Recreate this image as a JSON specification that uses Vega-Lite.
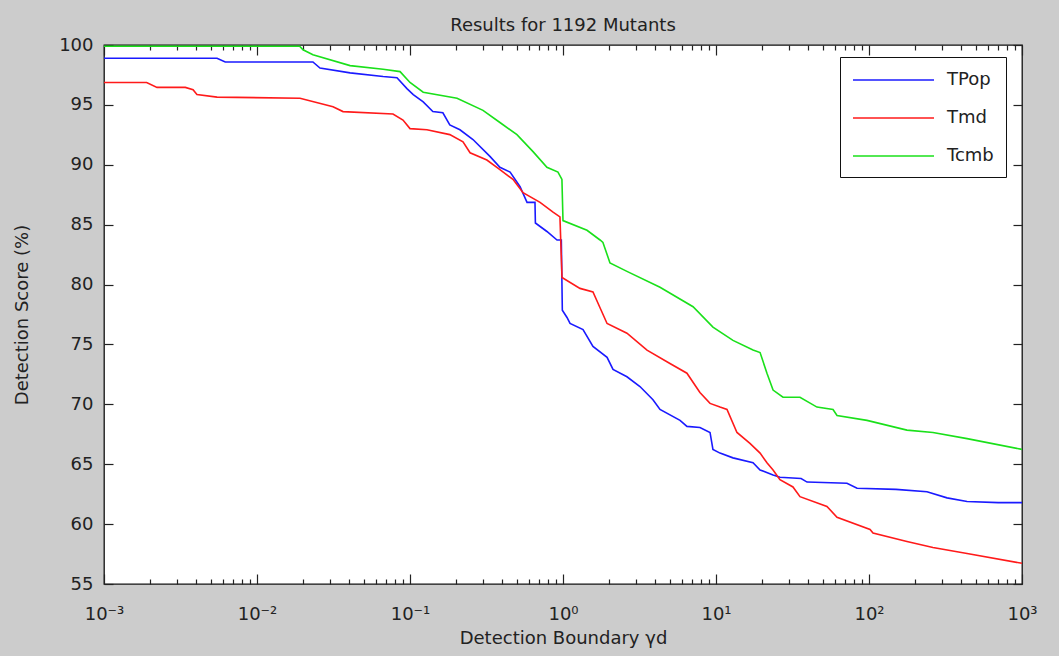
{
  "$schema": "https://vega.github.io/schema/vega-lite/v6.json",
  "autosize": "none",
  "width": 918,
  "height": 539,
  "padding": {"left": 104, "top": 45, "right": 37, "bottom": 72},
  "background": "#cccccc",
  "title": {"text": "Results for 1192 Mutants", "fontSize": 18, "font": "DejaVu Sans", "fontWeight": "normal", "color": "#222222", "offset": 1},
  "config": {
    "view": {"fill": "white", "stroke": "#111111", "strokeWidth": 1.3},
    "axis": {"labelFont": "DejaVu Sans", "titleFont": "DejaVu Sans", "labelColor": "#222222", "titleColor": "#222222", "tickColor": "#222222", "titleFontWeight": "normal", "grid": false, "domain": false, "tickWidth": 1.2, "labelFontSize": 18, "titleFontSize": 18}
  },
  "data": {"values": [
    {"s":"TPop","x":0.001,"y":98.89},{"s":"TPop","x":0.00548,"y":98.89},{"s":"TPop","x":0.0062,"y":98.58},{"s":"TPop","x":0.0232,"y":98.58},{"s":"TPop","x":0.0258,"y":98.08},{"s":"TPop","x":0.0406,"y":97.67},{"s":"TPop","x":0.0667,"y":97.37},{"s":"TPop","x":0.0822,"y":97.27},{"s":"TPop","x":0.0955,"y":96.36},{"s":"TPop","x":0.105,"y":95.86},{"s":"TPop","x":0.122,"y":95.25},{"s":"TPop","x":0.141,"y":94.44},{"s":"TPop","x":0.164,"y":94.34},{"s":"TPop","x":0.182,"y":93.33},{"s":"TPop","x":0.212,"y":92.92},{"s":"TPop","x":0.258,"y":92.11},{"s":"TPop","x":0.333,"y":90.7},{"s":"TPop","x":0.387,"y":89.79},{"s":"TPop","x":0.451,"y":89.39},{"s":"TPop","x":0.524,"y":88.17},{"s":"TPop","x":0.582,"y":86.86},{"s":"TPop","x":0.656,"y":86.86},{"s":"TPop","x":0.66,"y":85.14},{"s":"TPop","x":0.785,"y":84.43},{"s":"TPop","x":0.914,"y":83.72},{"s":"TPop","x":0.975,"y":83.72},{"s":"TPop","x":0.99,"y":77.86},{"s":"TPop","x":1.062,"y":77.25},{"s":"TPop","x":1.112,"y":76.75},{"s":"TPop","x":1.352,"y":76.24},{"s":"TPop","x":1.57,"y":74.83},{"s":"TPop","x":1.941,"y":73.92},{"s":"TPop","x":2.123,"y":72.91},{"s":"TPop","x":2.618,"y":72.3},{"s":"TPop","x":3.184,"y":71.49},{"s":"TPop","x":3.873,"y":70.38},{"s":"TPop","x":4.305,"y":69.57},{"s":"TPop","x":5.821,"y":68.66},{"s":"TPop","x":6.457,"y":68.16},{"s":"TPop","x":7.852,"y":68.06},{"s":"TPop","x":9.141,"y":67.65},{"s":"TPop","x":9.55,"y":66.24},{"s":"TPop","x":10.62,"y":65.93},{"s":"TPop","x":12.91,"y":65.53},{"s":"TPop","x":17.46,"y":65.12},{"s":"TPop","x":19.41,"y":64.52},{"s":"TPop","x":23.6,"y":64.11},{"s":"TPop","x":26.18,"y":63.91},{"s":"TPop","x":36,"y":63.81},{"s":"TPop","x":39.36,"y":63.51},{"s":"TPop","x":71.78,"y":63.41},{"s":"TPop","x":83.56,"y":63.0},{"s":"TPop","x":150,"y":62.9},{"s":"TPop","x":239.3,"y":62.7},{"s":"TPop","x":323.6,"y":62.19},{"s":"TPop","x":437.5,"y":61.89},{"s":"TPop","x":700,"y":61.79},{"s":"TPop","x":1000,"y":61.79},
    {"s":"Tmd","x":0.001,"y":96.87},{"s":"Tmd","x":0.0019,"y":96.87},{"s":"Tmd","x":0.00222,"y":96.46},{"s":"Tmd","x":0.0034,"y":96.46},{"s":"Tmd","x":0.00382,"y":96.26},{"s":"Tmd","x":0.00405,"y":95.86},{"s":"Tmd","x":0.00548,"y":95.65},{"s":"Tmd","x":0.0191,"y":95.55},{"s":"Tmd","x":0.0314,"y":94.84},{"s":"Tmd","x":0.0365,"y":94.44},{"s":"Tmd","x":0.0774,"y":94.24},{"s":"Tmd","x":0.09,"y":93.73},{"s":"Tmd","x":0.1,"y":93.02},{"s":"Tmd","x":0.129,"y":92.92},{"s":"Tmd","x":0.182,"y":92.52},{"s":"Tmd","x":0.222,"y":91.91},{"s":"Tmd","x":0.247,"y":91.0},{"s":"Tmd","x":0.318,"y":90.4},{"s":"Tmd","x":0.387,"y":89.59},{"s":"Tmd","x":0.471,"y":88.78},{"s":"Tmd","x":0.548,"y":87.67},{"s":"Tmd","x":0.708,"y":86.86},{"s":"Tmd","x":0.861,"y":86.05},{"s":"Tmd","x":0.955,"y":85.65},{"s":"Tmd","x":0.985,"y":80.59},{"s":"Tmd","x":1.291,"y":79.68},{"s":"Tmd","x":1.57,"y":79.38},{"s":"Tmd","x":1.746,"y":78.06},{"s":"Tmd","x":1.941,"y":76.75},{"s":"Tmd","x":2.618,"y":75.94},{"s":"Tmd","x":3.54,"y":74.53},{"s":"Tmd","x":5.0,"y":73.41},{"s":"Tmd","x":6.457,"y":72.6},{"s":"Tmd","x":7.852,"y":70.99},{"s":"Tmd","x":9.141,"y":70.08},{"s":"Tmd","x":10.62,"y":69.77},{"s":"Tmd","x":11.8,"y":69.57},{"s":"Tmd","x":13.71,"y":67.65},{"s":"Tmd","x":16.67,"y":66.74},{"s":"Tmd","x":19.41,"y":65.93},{"s":"Tmd","x":21.53,"y":65.12},{"s":"Tmd","x":23.6,"y":64.52},{"s":"Tmd","x":26.18,"y":63.71},{"s":"Tmd","x":31.84,"y":63.1},{"s":"Tmd","x":35.4,"y":62.29},{"s":"Tmd","x":53.09,"y":61.48},{"s":"Tmd","x":61.8,"y":60.57},{"s":"Tmd","x":101.6,"y":59.56},{"s":"Tmd","x":106.2,"y":59.26},{"s":"Tmd","x":177,"y":58.55},{"s":"Tmd","x":261.8,"y":58.05},{"s":"Tmd","x":437.5,"y":57.54},{"s":"Tmd","x":1000,"y":56.73},
    {"s":"Tcmb","x":0.001,"y":99.9},{"s":"Tcmb","x":0.019,"y":99.9},{"s":"Tcmb","x":0.02,"y":99.6},{"s":"Tcmb","x":0.0232,"y":99.19},{"s":"Tcmb","x":0.0406,"y":98.28},{"s":"Tcmb","x":0.0667,"y":97.98},{"s":"Tcmb","x":0.0861,"y":97.78},{"s":"Tcmb","x":0.1,"y":96.87},{"s":"Tcmb","x":0.122,"y":96.06},{"s":"Tcmb","x":0.203,"y":95.55},{"s":"Tcmb","x":0.3,"y":94.54},{"s":"Tcmb","x":0.387,"y":93.53},{"s":"Tcmb","x":0.5,"y":92.52},{"s":"Tcmb","x":0.637,"y":91.1},{"s":"Tcmb","x":0.785,"y":89.79},{"s":"Tcmb","x":0.927,"y":89.39},{"s":"Tcmb","x":0.984,"y":88.78},{"s":"Tcmb","x":1.0,"y":85.34},{"s":"Tcmb","x":1.435,"y":84.53},{"s":"Tcmb","x":1.746,"y":83.72},{"s":"Tcmb","x":1.824,"y":83.52},{"s":"Tcmb","x":2.028,"y":81.8},{"s":"Tcmb","x":2.618,"y":81.1},{"s":"Tcmb","x":4.305,"y":79.78},{"s":"Tcmb","x":7.079,"y":78.15},{"s":"Tcmb","x":9.55,"y":76.45},{"s":"Tcmb","x":12.91,"y":75.34},{"s":"Tcmb","x":17.46,"y":74.53},{"s":"Tcmb","x":19.41,"y":74.32},{"s":"Tcmb","x":21.53,"y":72.6},{"s":"Tcmb","x":23.6,"y":71.19},{"s":"Tcmb","x":27.4,"y":70.59},{"s":"Tcmb","x":35.4,"y":70.59},{"s":"Tcmb","x":45.7,"y":69.77},{"s":"Tcmb","x":58.2,"y":69.57},{"s":"Tcmb","x":61.8,"y":69.07},{"s":"Tcmb","x":97,"y":68.66},{"s":"Tcmb","x":177,"y":67.85},{"s":"Tcmb","x":261.8,"y":67.65},{"s":"Tcmb","x":437.5,"y":67.14},{"s":"Tcmb","x":1000,"y":66.24}
  ]},
  "layer": [
    {
      "mark": {"type": "line", "strokeWidth": 1.6, "clip": true},
      "encoding": {
        "x": {"field": "x", "type": "quantitative", "scale": {"type": "log", "domain": [0.001, 1000], "nice": false},
          "axis": {"orient": "bottom", "values": [0.001, 0.01, 0.1, 1, 10, 100, 1000], "tickSize": -10, "labelPadding": 31, "labelFlush": false,
            "labelExpr": "datum.value < 0.005 ? '10⁻³' : datum.value < 0.05 ? '10⁻²' : datum.value < 0.5 ? '10⁻¹' : datum.value < 5 ? '10⁰' : datum.value < 50 ? '10¹' : datum.value < 500 ? '10²' : '10³'",
            "title": "Detection Boundary  γd", "titlePadding": 6}},
        "y": {"field": "y", "type": "quantitative", "scale": {"domain": [55, 100], "nice": false, "zero": false},
          "axis": {"orient": "left", "values": [55, 60, 65, 70, 75, 80, 85, 90, 95, 100], "tickSize": -9, "labelPadding": 20, "title": "Detection Score (%)", "titlePadding": 27}},
        "color": {"field": "s", "type": "nominal",
          "scale": {"domain": ["TPop", "Tmd", "Tcmb"], "range": ["#1a1aff", "#ff1a1a", "#1ae01a"]},
          "legend": {"orient": "none", "legendX": 736, "legendY": 12, "title": null, "symbolType": "M-1,0H7.1", "symbolSize": 400, "symbolStrokeWidth": 1.6,
            "labelFont": "DejaVu Sans", "labelFontSize": 18, "labelColor": "#222222", "labelOffset": 73, "padding": 12, "rowPadding": 18,
            "strokeColor": "#111111", "fillColor": "white"}}
      }
    },
    {
      "mark": {"type": "point", "opacity": 0},
      "encoding": {
        "x": {"field": "x", "type": "quantitative", "scale": {"type": "log", "domain": [0.001, 1000], "nice": false},
          "axis": {"orient": "bottom", "values": [0.002,0.003,0.004,0.005,0.006,0.007,0.008,0.009,0.02,0.03,0.04,0.05,0.06,0.07,0.08,0.09,0.2,0.3,0.4,0.5,0.6,0.7,0.8,0.9,2,3,4,5,6,7,8,9,20,30,40,50,60,70,80,90,200,300,400,500,600,700,800,900], "labels": false, "tickSize": -5, "title": null}},
        "y": {"field": "y", "type": "quantitative", "scale": {"domain": [55, 100], "nice": false, "zero": false},
          "axis": {"orient": "right", "values": [55, 60, 65, 70, 75, 80, 85, 90, 95, 100], "labels": false, "tickSize": -9, "title": null}}
      }
    },
    {
      "mark": {"type": "point", "opacity": 0},
      "encoding": {
        "x": {"field": "x", "type": "quantitative", "scale": {"type": "log", "domain": [0.001, 1000], "nice": false},
          "axis": {"orient": "top", "values": [0.001, 0.01, 0.1, 1, 10, 100, 1000], "labels": false, "tickSize": -10, "title": null}},
        "y": {"field": "y", "type": "quantitative", "scale": {"domain": [55, 100], "nice": false, "zero": false}, "axis": null}
      }
    },
    {
      "mark": {"type": "point", "opacity": 0},
      "encoding": {
        "x": {"field": "x", "type": "quantitative", "scale": {"type": "log", "domain": [0.001, 1000], "nice": false},
          "axis": {"orient": "top", "values": [0.002,0.003,0.004,0.005,0.006,0.007,0.008,0.009,0.02,0.03,0.04,0.05,0.06,0.07,0.08,0.09,0.2,0.3,0.4,0.5,0.6,0.7,0.8,0.9,2,3,4,5,6,7,8,9,20,30,40,50,60,70,80,90,200,300,400,500,600,700,800,900], "labels": false, "tickSize": -5, "title": null}},
        "y": {"field": "y", "type": "quantitative", "scale": {"domain": [55, 100], "nice": false, "zero": false}, "axis": null}
      }
    }
  ],
  "resolve": {"axis": {"x": "independent", "y": "independent"}}
}
